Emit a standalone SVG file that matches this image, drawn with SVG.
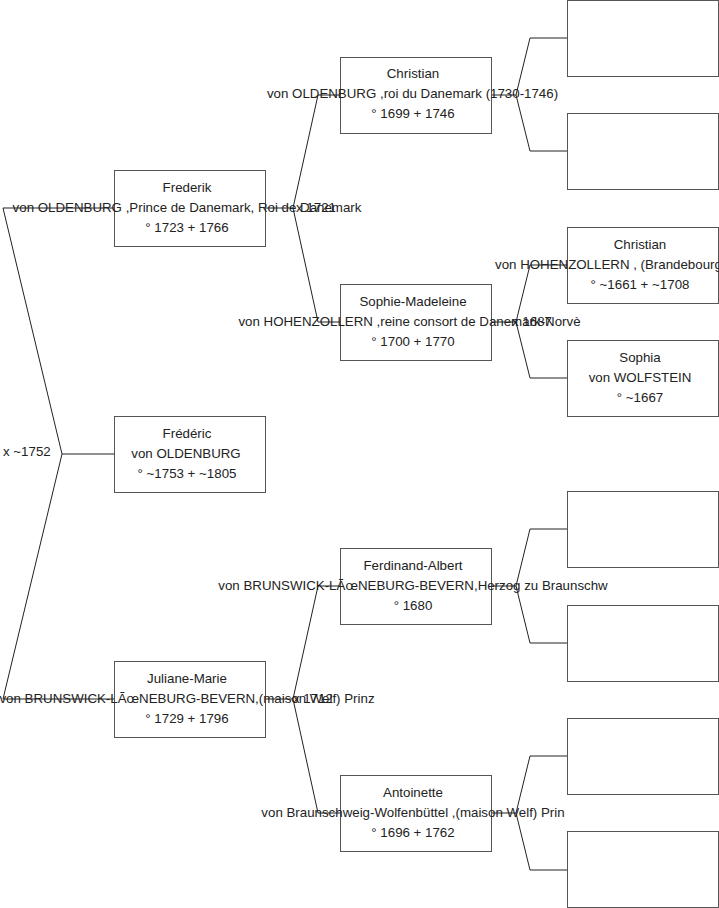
<svg xmlns="http://www.w3.org/2000/svg" width="719" height="908" viewBox="0 0 719 908">
<style>
.box{fill:#fff;stroke:#555;stroke-width:1}
.ln{fill:none;stroke:#222;stroke-width:1}
text{font-family:"Liberation Sans",Arial,sans-serif;font-size:13.3px;fill:#222}
.c{text-anchor:middle}
</style>
<rect width="719" height="908" fill="#fff"/>
<g id="connectors">
<path class="ln" d="M114,454H62M114,208H3L62,454L3,699H114"/>
<path class="ln" d="M265,208H293M340,95H318L293,208L318,322H340"/>
<path class="ln" d="M265,699H293M340,586H318L293,699L318,813H340"/>
<path class="ln" d="M491,95H516M567,38H530L516,95L530,151H567"/>
<path class="ln" d="M491,322H516M567,265H530L516,322L530,378H567"/>
<path class="ln" d="M491,586H516M567,529H530L516,586L530,643H567"/>
<path class="ln" d="M491,813H516M567,756H530L516,813L530,870H567"/>
</g>
<g id="frederik">
<rect class="box" x="114.5" y="170.5" width="151" height="76"/>
<text class="c" x="187" y="192">Frederik</text>
<text class="c" x="187" y="212">von OLDENBURG ,Prince de Danemark, Roi de Danemark</text>
<text class="c" x="187" y="232">° 1723 + 1766</text>
</g>
<g id="frederic">
<rect class="box" x="114.5" y="416.5" width="151" height="76"/>
<text class="c" x="187" y="438">Frédéric</text>
<text class="c" x="186" y="458">von OLDENBURG</text>
<text class="c" x="187" y="478">° ~1753 + ~1805</text>
</g>
<g id="juliane">
<rect class="box" x="114.5" y="661.5" width="151" height="76"/>
<text class="c" x="187" y="683">Juliane-Marie</text>
<text class="c" x="187" y="703">von BRUNSWICK-L&#xC3;&#x153;NEBURG-BEVERN,(maison Welf) Prinz</text>
<text class="c" x="187" y="723">° 1729 + 1796</text>
</g>
<g id="christian1">
<rect class="box" x="340.5" y="57.5" width="151" height="76"/>
<text class="c" x="413" y="78">Christian</text>
<text class="c" x="412.5" y="98">von OLDENBURG ,roi du Danemark (1730-1746)</text>
<text class="c" x="413" y="118">° 1699 + 1746</text>
</g>
<g id="sophie-madeleine">
<rect class="box" x="340.5" y="284.5" width="151" height="76"/>
<text class="c" x="413" y="306">Sophie-Madeleine</text>
<text class="c" x="409.5" y="326">von HOHENZOLLERN ,reine consort de Danemark-Norvè</text>
<text class="c" x="413" y="346">° 1700 + 1770</text>
</g>
<g id="ferdinand">
<rect class="box" x="340.5" y="548.5" width="151" height="76"/>
<text class="c" x="413" y="570">Ferdinand-Albert</text>
<text class="c" x="413" y="590">von BRUNSWICK-L&#xC3;&#x153;NEBURG-BEVERN,Herzog zu Braunschw</text>
<text class="c" x="413" y="610">° 1680</text>
</g>
<g id="antoinette">
<rect class="box" x="340.5" y="775.5" width="151" height="76"/>
<text class="c" x="413" y="797">Antoinette</text>
<text class="c" x="413" y="817">von Braunschweig-Wolfenbüttel ,(maison Welf) Prin</text>
<text class="c" x="413" y="837">° 1696 + 1762</text>
</g>
<g id="p1"><rect class="box" x="567.5" y="0.5" width="151" height="76"/></g>
<g id="p2"><rect class="box" x="567.5" y="113.5" width="151" height="76"/></g>
<g id="christian2">
<rect class="box" x="567.5" y="227.5" width="151" height="76"/>
<text class="c" x="640" y="249">Christian</text>
<text x="495" y="269">von HOHENZOLLERN , (Brandebourg</text>
<text class="c" x="640" y="289">° ~1661 + ~1708</text>
</g>
<g id="sophia">
<rect class="box" x="567.5" y="340.5" width="151" height="76"/>
<text class="c" x="640" y="362">Sophia</text>
<text class="c" x="640" y="382">von WOLFSTEIN</text>
<text class="c" x="640" y="402">° ~1667</text>
</g>
<g id="p5"><rect class="box" x="567.5" y="491.5" width="151" height="76"/></g>
<g id="p6"><rect class="box" x="567.5" y="605.5" width="151" height="76"/></g>
<g id="p7"><rect class="box" x="567.5" y="718.5" width="151" height="76"/></g>
<g id="p8"><rect class="box" x="567.5" y="831.5" width="151" height="76"/></g>
<g id="marriages">
<text x="3" y="456">x ~1752</text>
<text x="296" y="212">x 1721</text>
<text x="512" y="326">x 1687</text>
<text x="293" y="703">x 1712</text>
</g>
</svg>
